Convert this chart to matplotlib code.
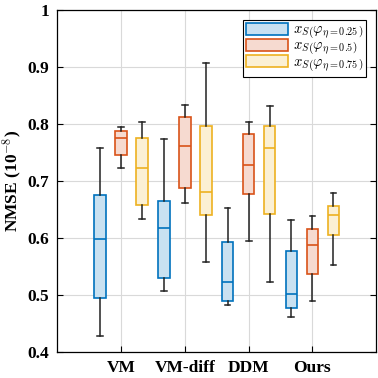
import matplotlib
matplotlib.use("Agg")
import matplotlib.pyplot as plt
from matplotlib.patches import Patch

plt.rcParams['font.family'] = 'Liberation Serif'
plt.rcParams['mathtext.fontset'] = 'cm'

categories = ["VM", "VM-diff", "DDM", "Ours"]
series_labels = [r"$x_S\left(\varphi_{\eta=0.25}\right)$",
                 r"$x_S\left(\varphi_{\eta=0.5}\right)$",
                 r"$x_S\left(\varphi_{\eta=0.75}\right)$"]
# per series: [whislo, q1, med, q3, whishi] for each category
s025 = [[0.428, 0.495, 0.598, 0.675, 0.757],
        [0.507, 0.529, 0.617, 0.664, 0.773],
        [0.482, 0.489, 0.522, 0.592, 0.652],
        [0.461, 0.477, 0.501, 0.577, 0.631]]
s050 = [[0.722, 0.745, 0.775, 0.787, 0.794],
        [0.661, 0.687, 0.761, 0.812, 0.833],
        [0.594, 0.677, 0.728, 0.782, 0.803],
        [0.489, 0.536, 0.587, 0.615, 0.639]]
s075 = [[0.633, 0.658, 0.722, 0.775, 0.804],
        [0.558, 0.640, 0.680, 0.796, 0.907],
        [0.522, 0.642, 0.757, 0.796, 0.831],
        [0.552, 0.605, 0.640, 0.656, 0.678]]
series = [s025, s050, s075]
edge_colors = ["#0072BD", "#D95319", "#EDB120"]
face_colors = ["#C9E1F1", "#F6DAD0", "#FBF0D4"]
offsets = [-0.33, 0.0, 0.33]

fig = plt.figure(figsize=(3.78, 3.78), dpi=100)
ax = fig.add_axes([0.152, 0.069, 0.843, 0.905])

for s, ec, fc, off in zip(series, edge_colors, face_colors, offsets):
    stats = []
    for vals in s:
        lo, q1, med, q3, hi = vals
        stats.append(dict(whislo=lo, q1=q1, med=med, q3=q3, whishi=hi, fliers=[]))
    pos = [i + 1 + off for i in range(len(categories))]
    ax.bxp(stats, positions=pos, widths=0.18, patch_artist=True, showfliers=False,
           boxprops=dict(facecolor=fc, edgecolor=ec, linewidth=1.2),
           medianprops=dict(color=ec, linewidth=1.2),
           whiskerprops=dict(color='#222222', linewidth=1.1),
           capprops=dict(color='#222222', linewidth=1.1),
           capwidths=0.09, zorder=3)

ax.set_xlim(0, 5)
ax.set_ylim(0.4, 1.0)
ax.set_xticks(range(1, len(categories) + 1))
ax.set_xticklabels(categories, fontweight='bold', fontsize=12.5)
ax.set_yticks([0.4, 0.5, 0.6, 0.7, 0.8, 0.9, 1.0])
ax.set_yticklabels(["0.4", "0.5", "0.6", "0.7", "0.8", "0.9", "1"], fontweight='bold', fontsize=12.5)
ax.tick_params(direction='in', right=True, top=False, length=4, width=0.8, pad=6)
ax.grid(True, color='#d9d9d9', linewidth=0.8, zorder=0)
ax.set_axisbelow(True)
for sp in ax.spines.values():
    sp.set_linewidth(0.9)
ax.set_ylabel(r"NMSE (10$^{\mathbf{-8}}$)", fontweight='bold', fontsize=12.5, labelpad=2)

handles = [Patch(facecolor=fc, edgecolor=ec, linewidth=1.2) for ec, fc in zip(edge_colors, face_colors)]
leg = ax.legend(handles, series_labels, loc='upper right', fontsize=10.5, frameon=True,
                fancybox=False, edgecolor='black', framealpha=1, handlelength=2.9,
                handleheight=0.9, borderpad=0.2, labelspacing=-0.15, handletextpad=0.3,
                borderaxespad=0.7)
leg.get_frame().set_linewidth(0.8)

fig.savefig("out.png", dpi=100)
